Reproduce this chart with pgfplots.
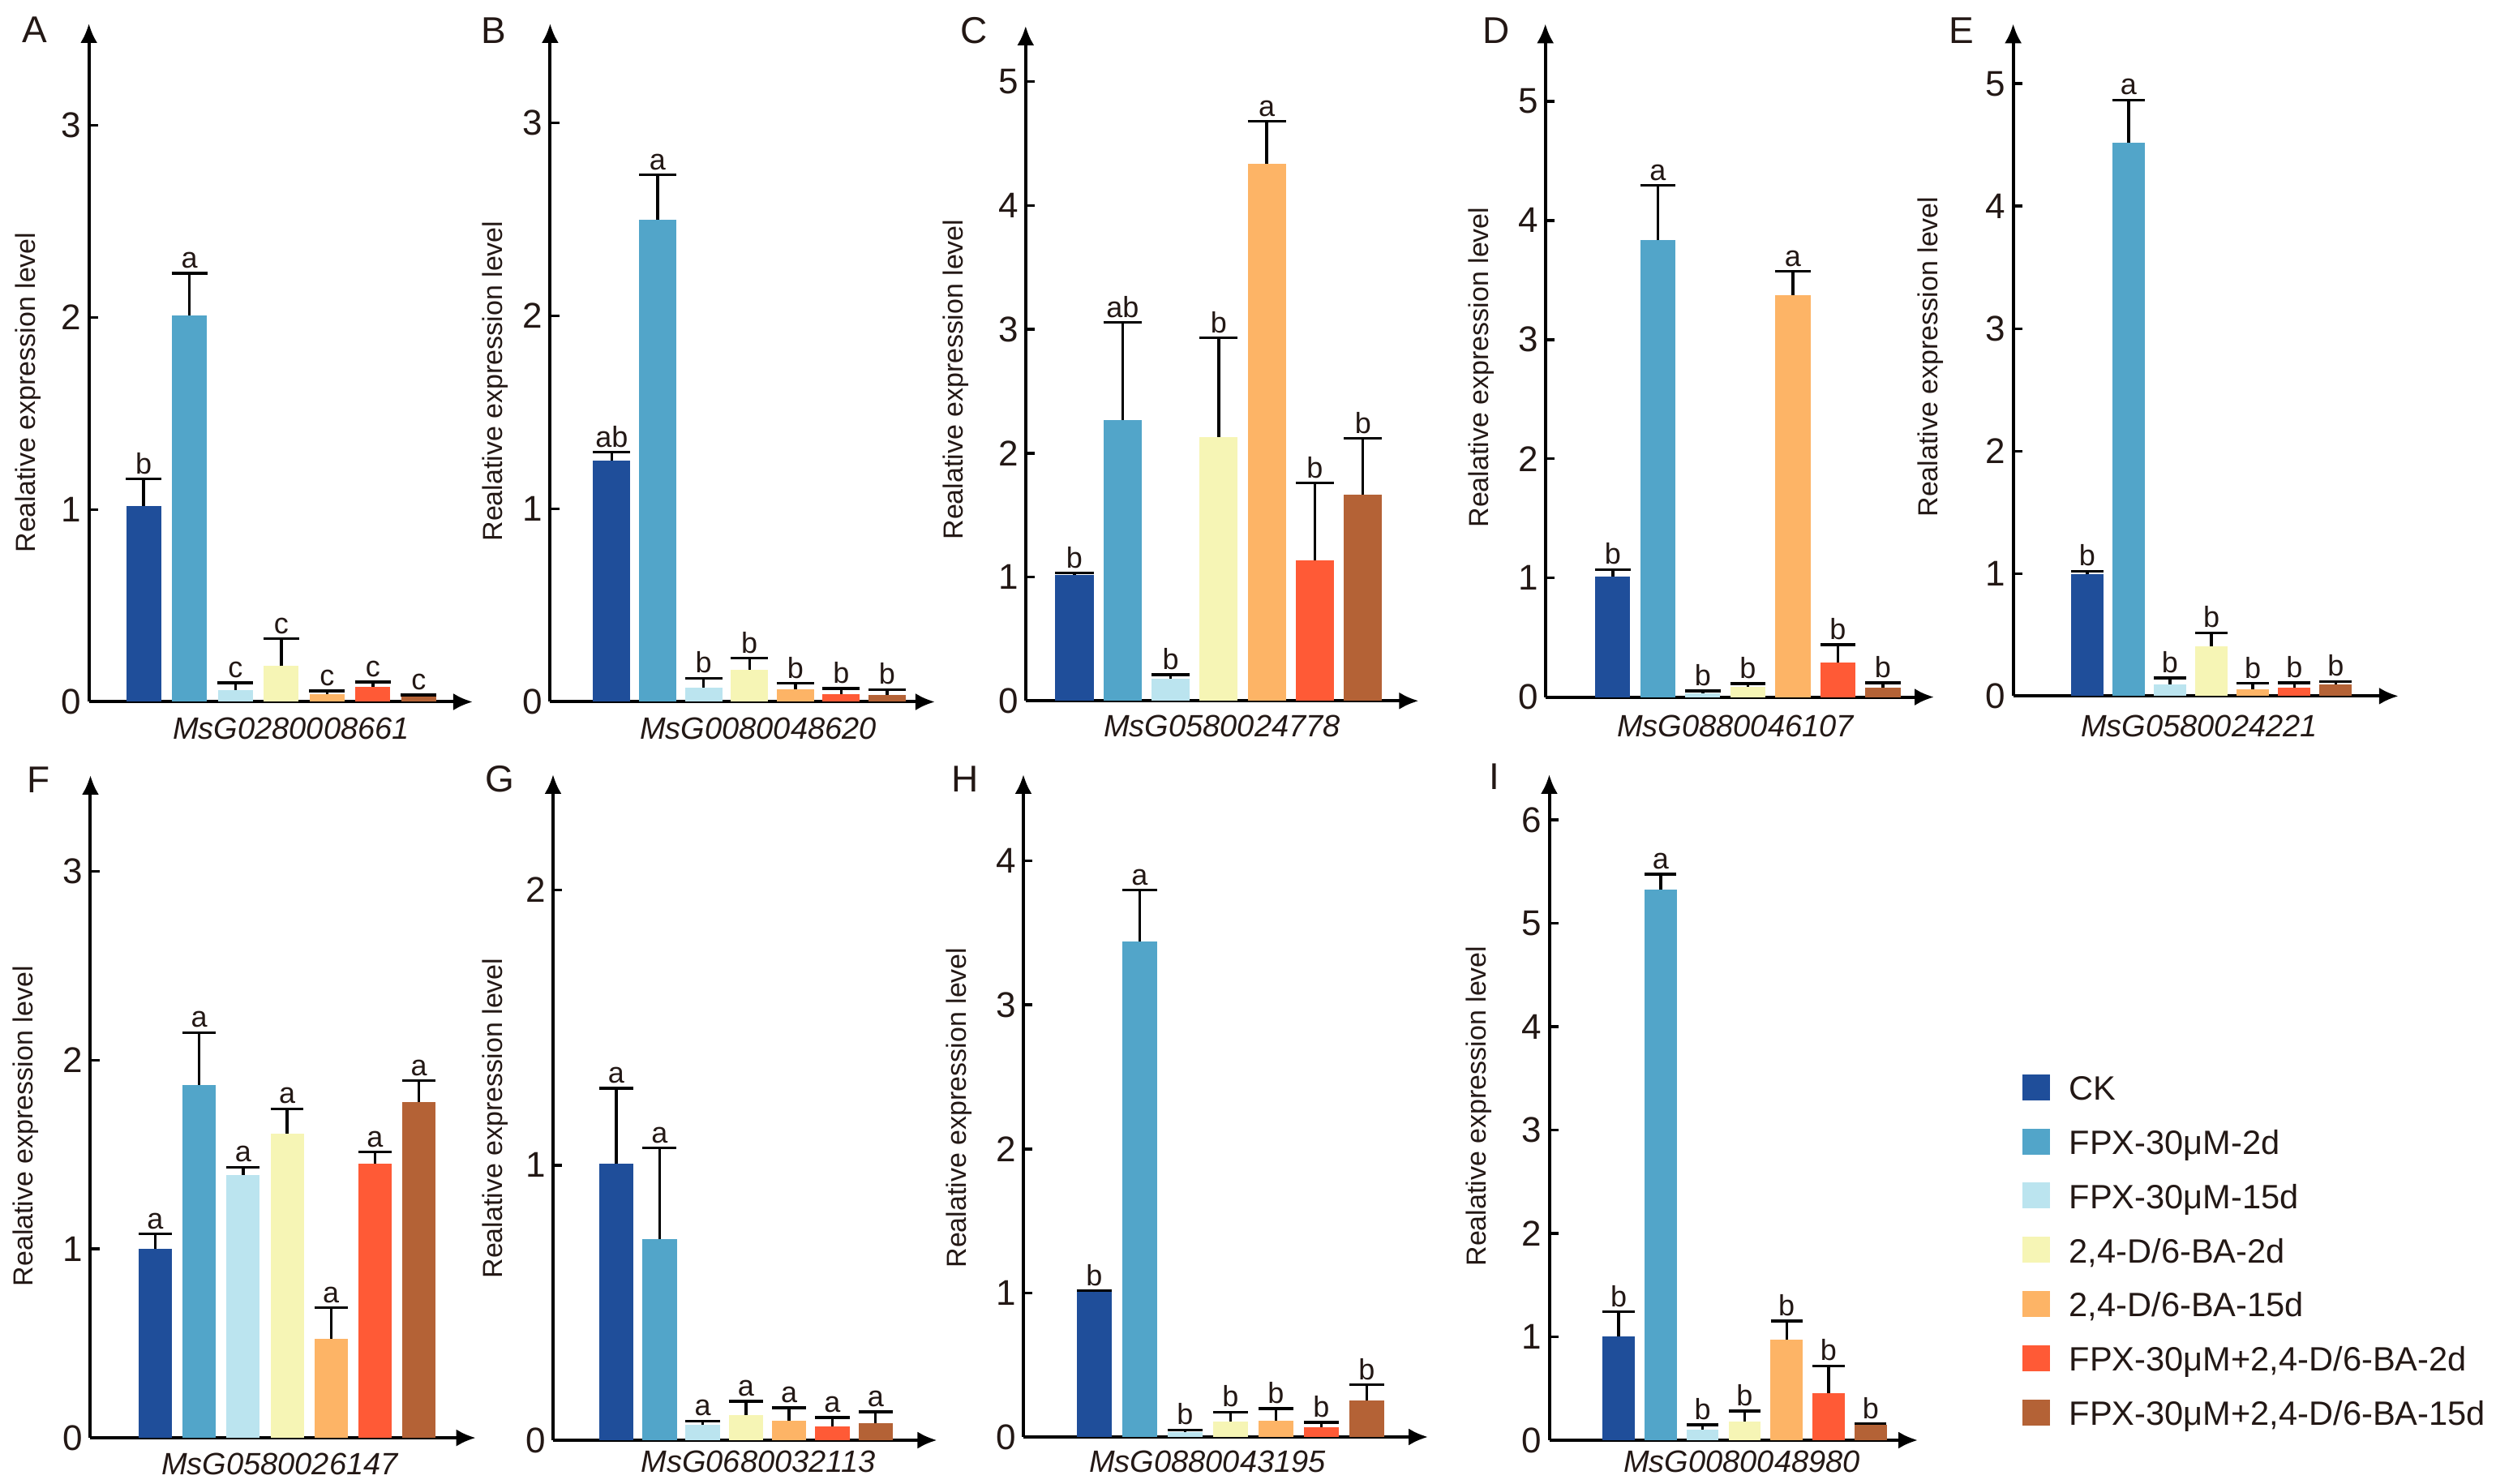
\documentclass[border=0pt]{standalone}
\usepackage{fontspec}
\setmainfont{Liberation Sans}
\usepackage{pgfplots}
\pgfplotsset{compat=1.18}
\usetikzlibrary{arrows.meta}
\definecolor{c1}{RGB}{31,78,154}
\definecolor{c2}{RGB}{82,165,201}
\definecolor{c3}{RGB}{187,228,239}
\definecolor{c4}{RGB}{246,245,181}
\definecolor{c5}{RGB}{253,180,102}
\definecolor{c6}{RGB}{255,90,54}
\definecolor{c7}{RGB}{180,98,54}
\definecolor{txt}{RGB}{35,24,21}
\tikzset{lbl/.style={anchor=south, inner sep=1.3pt, font=\fontsize{9}{10}\selectfont, text=txt},
  ylab/.style={rotate=90, font=\fontsize{8.5}{10}\selectfont, text=txt, inner sep=0pt},
  xlab/.style={font=\itshape\fontsize{9.5}{11}\selectfont, text=txt, inner sep=0pt},
  plet/.style={font=\fontsize{11.5}{13}\selectfont, text=txt, inner sep=0pt}}
\pgfplotsset{
 panel/.style={
  scale only axis, anchor=south west, axis lines=left,
  axis line style={line width=1pt, black, -{Latex[length=6pt,width=5.3pt]}},
  ymin=0, ytick distance=1, xtick=\empty,
  tick align=inside, major tick length=2.8pt,
  ytick style={line width=0.9pt, black},
  yticklabel style={font=\fontsize{11}{13}\selectfont, inner sep=0pt, xshift=-2.1pt, text=txt},
  /pgf/number format/assume math mode=true,
  clip=false,
 }
}
\newcommand{\onebar}[4]{%
  \addplot[ybar, bar shift=0pt, fill=c#1, draw=none,
    error bars/.cd, y dir=plus, y explicit,
    error bar style={line width=0.85pt, black},
    error mark options={rotate=90, line width=0.85pt, black, mark size=\capsize}]
    coordinates {(#1,#2) +- (0,#3)};
  \pgfmathsetmacro\lbltop{#2+#3}%
  \edef\temp{\noexpand\node[lbl] at (axis cs:#1,\lbltop) {#4};}\temp
}
\begin{document}
\begin{tikzpicture}
\useasboundingbox (0,0) rectangle (769.5pt,457.5pt);
% ---------- A
\def\capsize{5.5pt}
\begin{axis}[panel, at={(27.4pt,241.125pt)}, width=118.35pt, height=209.125pt,
  xmin=-0.195, xmax=8.177, ymax=3.53, bar width=0.761]
\onebar{1}{1.02}{0.14}{b}
\onebar{2}{2.01}{0.22}{a}
\onebar{3}{0.062}{0.037}{c}
\onebar{4}{0.186}{0.143}{c}
\onebar{5}{0.042}{0.015}{c}
\onebar{6}{0.079}{0.025}{c}
\onebar{7}{0.032}{0.004}{c}
\end{axis}
% ---------- B
\def\capsize{5.75pt}
\begin{axis}[panel, at={(169.6pt,241.125pt)}, width=118.65pt, height=209.125pt,
  xmin=-0.343, xmax=8.042, ymax=3.515, bar width=0.813]
\onebar{1}{1.252}{0.042}{ab}
\onebar{2}{2.50}{0.23}{a}
\onebar{3}{0.074}{0.049}{b}
\onebar{4}{0.165}{0.062}{b}
\onebar{5}{0.067}{0.029}{b}
\onebar{6}{0.039}{0.03}{b}
\onebar{7}{0.035}{0.029}{b}
\end{axis}
% ---------- C
\def\capsize{5.9pt}
\begin{axis}[panel, at={(316.2pt,241.425pt)}, width=121.175pt, height=208.075pt,
  xmin=-0.015, xmax=8.159, ymax=5.45, bar width=0.793]
\onebar{1}{1.018}{0.015}{b}
\onebar{2}{2.27}{0.785}{ab}
\onebar{3}{0.177}{0.034}{b}
\onebar{4}{2.133}{0.80}{b}
\onebar{5}{4.335}{0.345}{a}
\onebar{6}{1.134}{0.626}{b}
\onebar{7}{1.664}{0.456}{b}
\end{axis}
% ---------- D
\def\capsize{5.4pt}
\begin{axis}[panel, at={(476.425pt,242.6pt)}, width=119.825pt, height=207.575pt,
  xmin=-0.50, xmax=8.135, ymax=5.65, bar width=0.775]
\onebar{1}{1.01}{0.06}{b}
\onebar{2}{3.834}{0.459}{a}
\onebar{3}{0.032}{0.02}{b}
\onebar{4}{0.088}{0.024}{b}
\onebar{5}{3.375}{0.199}{a}
\onebar{6}{0.288}{0.152}{b}
\onebar{7}{0.08}{0.04}{b}
\end{axis}
% ---------- E
\def\capsize{5.0pt}
\begin{axis}[panel, at={(620.65pt,242.9pt)}, width=118.8pt, height=207.275pt,
  xmin=-0.785, xmax=8.515, ymax=5.49, bar width=0.783]
\onebar{1}{0.995}{0.025}{b}
\onebar{2}{4.52}{0.348}{a}
\onebar{3}{0.097}{0.051}{b}
\onebar{4}{0.408}{0.109}{b}
\onebar{5}{0.058}{0.047}{b}
\onebar{6}{0.07}{0.039}{b}
\onebar{7}{0.097}{0.023}{b}
\end{axis}
% ---------- F
\def\capsize{5.1pt}
\begin{axis}[panel, at={(27.875pt,14.225pt)}, width=118.8pt, height=204.275pt,
  xmin=-0.474, xmax=8.293, ymax=3.51, bar width=0.756]
\onebar{1}{1.0}{0.08}{a}
\onebar{2}{1.87}{0.277}{a}
\onebar{3}{1.394}{0.04}{a}
\onebar{4}{1.613}{0.13}{a}
\onebar{5}{0.524}{0.166}{a}
\onebar{6}{1.454}{0.06}{a}
\onebar{7}{1.778}{0.115}{a}
\end{axis}
% ---------- G
\def\capsize{5.3pt}
\begin{axis}[panel, at={(170.5pt,13.5pt)}, width=118.375pt, height=205.25pt,
  xmin=-0.463, xmax=8.42, ymax=2.42, bar width=0.797]
\onebar{1}{1.005}{0.274}{a}
\onebar{2}{0.732}{0.331}{a}
\onebar{3}{0.055}{0.015}{a}
\onebar{4}{0.091}{0.051}{a}
\onebar{5}{0.07}{0.048}{a}
\onebar{6}{0.05}{0.032}{a}
\onebar{7}{0.063}{0.04}{a}
\end{axis}
% ---------- H
\def\capsize{5.4pt}
\begin{axis}[panel, at={(315.5pt,14.5pt)}, width=124.75pt, height=204.25pt,
  xmin=-0.561, xmax=8.35, ymax=4.6, bar width=0.775]
\onebar{1}{1.006}{0.01}{b}
\onebar{2}{3.438}{0.36}{a}
\onebar{3}{0.036}{0.013}{b}
\onebar{4}{0.108}{0.065}{b}
\onebar{5}{0.114}{0.082}{b}
\onebar{6}{0.069}{0.032}{b}
\onebar{7}{0.251}{0.111}{b}
\end{axis}
% ---------- I
\def\capsize{4.9pt}
\begin{axis}[panel, at={(477.625pt,13.5pt)}, width=113.625pt, height=205.25pt,
  xmin=-0.651, xmax=8.124, ymax=6.44, bar width=0.763]
\onebar{1}{1.0}{0.243}{b}
\onebar{2}{5.325}{0.151}{a}
\onebar{3}{0.105}{0.045}{b}
\onebar{4}{0.182}{0.10}{b}
\onebar{5}{0.97}{0.182}{b}
\onebar{6}{0.455}{0.264}{b}
\onebar{7}{0.15}{0.01}{b}
\end{axis}
% ---------- legend
\begin{axis}[at={(623.25pt,126.5pt)}, anchor=north west, hide axis, scale only axis,
  width=1pt, height=1pt, xmin=0, xmax=1, ymin=0, ymax=1,
  legend cell align=left,
  legend image code/.code={\fill[#1] (0pt,-4pt) rectangle (8.65pt,4pt);},
  legend style={at={(0,1)}, anchor=north west, draw=none, fill=none, inner sep=0pt,
    row sep=8.7pt,
    nodes={font=\fontsize{10.4}{12}\selectfont, text=txt, inner sep=0pt, text height=8pt, text depth=0pt},
    /tikz/every odd column/.append style={column sep=5.85pt}}]
\addlegendimage{fill=c1, draw=none}\addlegendentry{CK}
\addlegendimage{fill=c2, draw=none}\addlegendentry{FPX-30μM-2d}
\addlegendimage{fill=c3, draw=none}\addlegendentry{FPX-30μM-15d}
\addlegendimage{fill=c4, draw=none}\addlegendentry{2,4-D/6-BA-2d}
\addlegendimage{fill=c5, draw=none}\addlegendentry{2,4-D/6-BA-15d}
\addlegendimage{fill=c6, draw=none}\addlegendentry{FPX-30μM+2,4-D/6-BA-2d}
\addlegendimage{fill=c7, draw=none}\addlegendentry{FPX-30μM+2,4-D/6-BA-15d}
\end{axis}
% ---------- panel letters
\node[plet] at (10.7pt,448.25pt) {A};
\node[plet] at (152.25pt,448pt) {B};
\node[plet] at (300.25pt,448pt) {C};
\node[plet] at (461.25pt,448pt) {D};
\node[plet] at (604.75pt,448pt) {E};
\node[plet] at (11.9pt,217pt) {F};
\node[plet] at (154pt,217.25pt) {G};
\node[plet] at (297.65pt,217.25pt) {H};
\node[plet] at (460.75pt,218pt) {I};
% ---------- y labels
\node[ylab] at (8.75pt,336.5pt) {Realative expression level};
\node[ylab] at (152.75pt,340pt) {Realative expression level};
\node[ylab] at (294.7pt,340.5pt) {Realative expression level};
\node[ylab] at (456.7pt,344.25pt) {Realative expression level};
\node[ylab] at (595.2pt,347.5pt) {Realative expression level};
\node[ylab] at (7.9pt,110.3pt) {Realative expression level};
\node[ylab] at (152.75pt,112.75pt) {Realative expression level};
\node[ylab] at (295.75pt,116pt) {Realative expression level};
\node[ylab] at (455.9pt,116.5pt) {Realative expression level};
% ---------- x labels
\node[xlab] at (89.75pt,233pt) {MsG0280008661};
\node[xlab] at (233.75pt,233pt) {MsG0080048620};
\node[xlab] at (376.75pt,233.75pt) {MsG0580024778};
\node[xlab] at (535pt,233.75pt) {MsG0880046107};
\node[xlab] at (678pt,233.75pt) {MsG0580024221};
\node[xlab] at (86.2pt,6.25pt) {MsG0580026147};
\node[xlab] at (233.75pt,7pt) {MsG0680032113};
\node[xlab] at (372.25pt,7pt) {MsG0880043195};
\node[xlab] at (537pt,7pt) {MsG0080048980};
\end{tikzpicture}
\end{document}
